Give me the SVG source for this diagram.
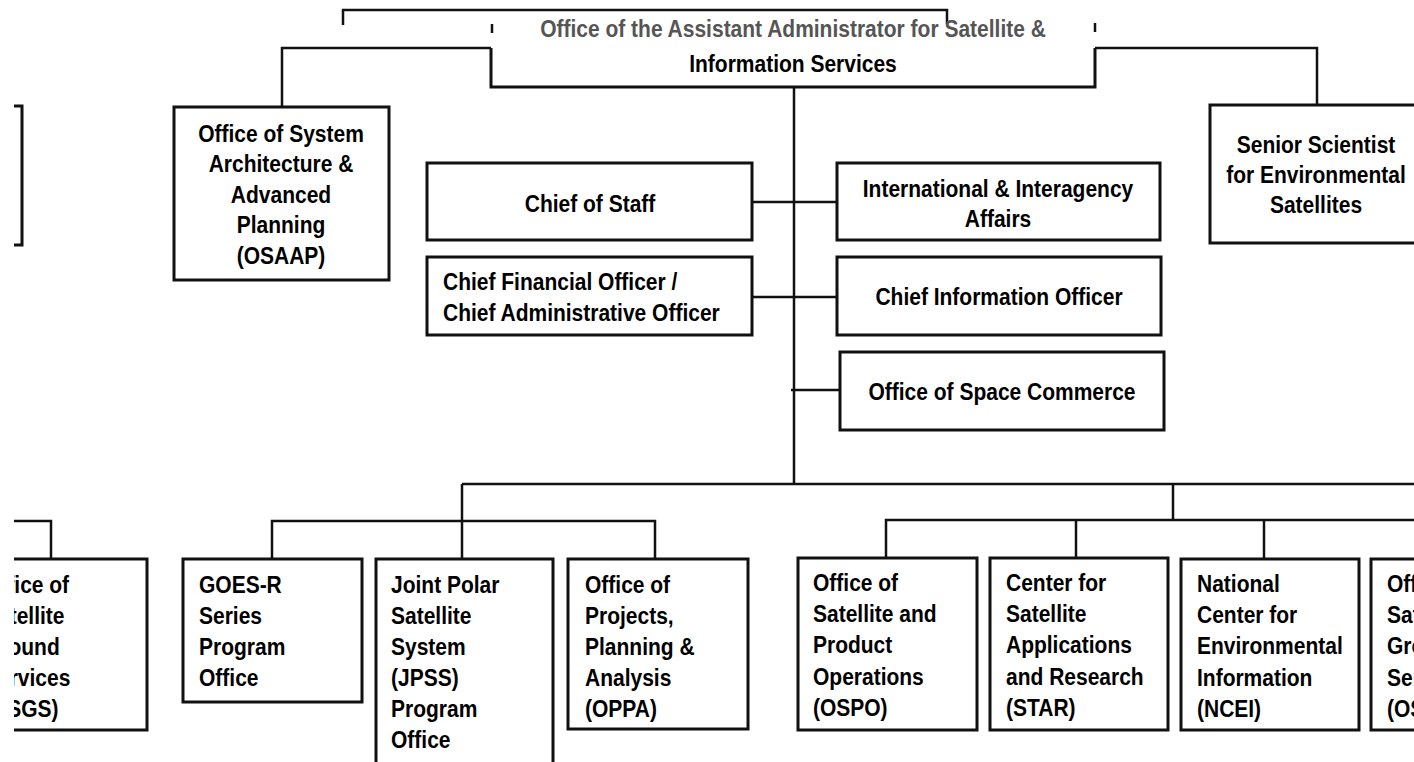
<svg xmlns="http://www.w3.org/2000/svg" width="1414" height="762" viewBox="0 0 1414 762">
<defs>
<clipPath id="clip"><rect x="14" y="0" width="1400" height="762"/></clipPath>
<style>
.box{fill:#fff;stroke:#111;stroke-width:3}
.edge{fill:none;stroke:#111;stroke-width:3}
.conn{fill:none;stroke:#111;stroke-width:2.5}
.t{font-family:"Liberation Sans",Arial,sans-serif;font-weight:bold;font-size:24px;fill:#000}
.c{text-anchor:middle}
.faint{fill:#555}
</style>
</defs>
<rect width="1414" height="762" fill="#fff"/>
<g clip-path="url(#clip)">
<g id="connectors">
<path class="conn" d="M282,107 V48 H491"/>
<path class="conn" d="M1095,48 H1317 V105"/>
<path class="conn" d="M794,87 V484"/>
<path class="conn" d="M752,202 H837"/>
<path class="conn" d="M752,297 H837"/>
<path class="conn" d="M791,390 H840"/>
<path class="conn" d="M462,484 H1420"/>
<path class="conn" d="M462,484 V559"/>
<path class="conn" d="M1173,484 V520"/>
<path class="conn" d="M272,559 V521 H655 V559"/>
<path class="conn" d="M14,521 H51 V559"/>
<path class="conn" d="M886,559 V520 H1420"/>
<path class="conn" d="M1076,520 V559"/>
<path class="conn" d="M1264,520 V559"/>
</g>
<g id="aa-office">
<path class="conn" d="M343,25 V10 H947 V24"/>
<path class="conn" d="M492,24 V33 M1095,23 V32"/>
<rect x="491" y="48" width="604" height="39" fill="#fff"/>
<path class="edge" d="M491,48 V87 H1095 V48"/>
<text class="t c faint" transform="translate(793,37) scale(0.875,1)" textLength="578" lengthAdjust="spacingAndGlyphs">Office of the Assistant Administrator for Satellite &amp;</text>
<text class="t c" transform="translate(793,72) scale(0.875,1)">Information Services</text>
</g>
<g id="left-cut">
<path class="edge" d="M10,106 H22 V245 H10"/>
</g>
<g id="osaap">
<rect class="box" x="174" y="107" width="215" height="173"/>
<text class="t c" transform="translate(281,142) scale(0.875,1)"><tspan x="0">Office of System</tspan><tspan x="0" dy="30.5">Architecture &amp;</tspan><tspan x="0" dy="30.5">Advanced</tspan><tspan x="0" dy="30.5">Planning</tspan><tspan x="0" dy="30.5">(OSAAP)</tspan></text>
</g>
<g id="senior-scientist">
<rect class="box" x="1210" y="105" width="230" height="138"/>
<text class="t c" transform="translate(1316,153) scale(0.875,1)"><tspan x="0">Senior Scientist</tspan><tspan x="0" dy="30">for Environmental</tspan><tspan x="0" dy="30">Satellites</tspan></text>
</g>
<g id="chief-of-staff">
<rect class="box" x="427" y="163" width="325" height="77"/>
<text class="t c" transform="translate(590,212) scale(0.875,1)">Chief of Staff</text>
</g>
<g id="international">
<rect class="box" x="837" y="163" width="323" height="77"/>
<text class="t c" transform="translate(998,197) scale(0.875,1)"><tspan x="0">International &amp; Interagency</tspan><tspan x="0" dy="30">Affairs</tspan></text>
</g>
<g id="cfo">
<rect class="box" x="427" y="257" width="325" height="78"/>
<text class="t" transform="translate(443,290) scale(0.875,1)"><tspan x="0">Chief Financial Officer /</tspan><tspan x="0" dy="31">Chief Administrative Officer</tspan></text>
</g>
<g id="cio">
<rect class="box" x="837" y="257" width="324" height="78"/>
<text class="t c" transform="translate(999,305) scale(0.875,1)">Chief Information Officer</text>
</g>
<g id="space-commerce">
<rect class="box" x="840" y="352" width="324" height="78"/>
<text class="t c" transform="translate(1002,400) scale(0.875,1)">Office of Space Commerce</text>
</g>
<g id="osgs-left">
<rect class="box" x="-32" y="559" width="179" height="171"/>
<text class="t" transform="translate(-16,593) scale(0.875,1)"><tspan x="0">Office of</tspan><tspan x="0" dy="31">Satellite</tspan><tspan x="0" dy="31">Ground</tspan><tspan x="0" dy="31">Services</tspan><tspan x="0" dy="31">(OSGS)</tspan></text>
</g>
<g id="goes-r">
<rect class="box" x="183" y="559" width="179" height="143"/>
<text class="t" transform="translate(199,593) scale(0.875,1)"><tspan x="0">GOES-R</tspan><tspan x="0" dy="31">Series</tspan><tspan x="0" dy="31">Program</tspan><tspan x="0" dy="31">Office</tspan></text>
</g>
<g id="jpss">
<rect class="box" x="376" y="559" width="177" height="220"/>
<text class="t" transform="translate(391,593) scale(0.875,1)"><tspan x="0">Joint Polar</tspan><tspan x="0" dy="31">Satellite</tspan><tspan x="0" dy="31">System</tspan><tspan x="0" dy="31">(JPSS)</tspan><tspan x="0" dy="31">Program</tspan><tspan x="0" dy="31">Office</tspan></text>
</g>
<g id="oppa">
<rect class="box" x="568" y="559" width="180" height="170"/>
<text class="t" transform="translate(585,593) scale(0.875,1)"><tspan x="0">Office of</tspan><tspan x="0" dy="31">Projects,</tspan><tspan x="0" dy="31">Planning &amp;</tspan><tspan x="0" dy="31">Analysis</tspan><tspan x="0" dy="31">(OPPA)</tspan></text>
</g>
<g id="ospo">
<rect class="box" x="798" y="558" width="179" height="172"/>
<text class="t" transform="translate(813,591) scale(0.875,1)"><tspan x="0">Office of</tspan><tspan x="0" dy="31.2">Satellite and</tspan><tspan x="0" dy="31.2">Product</tspan><tspan x="0" dy="31.2">Operations</tspan><tspan x="0" dy="31.2">(OSPO)</tspan></text>
</g>
<g id="star">
<rect class="box" x="990" y="558" width="178" height="172"/>
<text class="t" transform="translate(1006,591) scale(0.875,1)"><tspan x="0">Center for</tspan><tspan x="0" dy="31.2">Satellite</tspan><tspan x="0" dy="31.2">Applications</tspan><tspan x="0" dy="31.2">and Research</tspan><tspan x="0" dy="31.2">(STAR)</tspan></text>
</g>
<g id="ncei">
<rect class="box" x="1181" y="559" width="178" height="171"/>
<text class="t" transform="translate(1197,592) scale(0.875,1)"><tspan x="0">National</tspan><tspan x="0" dy="31.2">Center for</tspan><tspan x="0" dy="31.2">Environmental</tspan><tspan x="0" dy="31.2">Information</tspan><tspan x="0" dy="31.2">(NCEI)</tspan></text>
</g>
<g id="osgs-right">
<rect class="box" x="1371" y="559" width="179" height="171"/>
<text class="t" transform="translate(1387,592) scale(0.875,1)"><tspan x="0">Office of</tspan><tspan x="0" dy="31.2">Satellite</tspan><tspan x="0" dy="31.2">Ground</tspan><tspan x="0" dy="31.2">Services</tspan><tspan x="0" dy="31.2">(OSGS)</tspan></text>
</g>
</g>
</svg>
